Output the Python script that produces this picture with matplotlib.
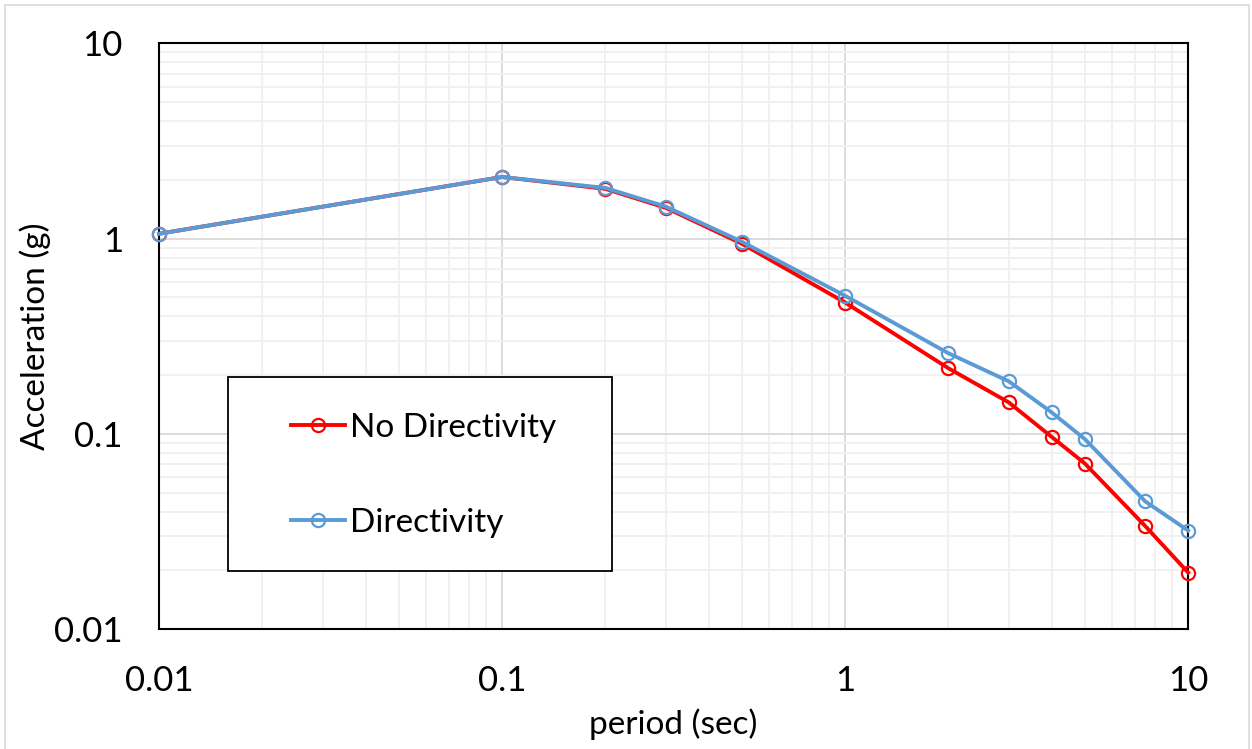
import matplotlib.pyplot as plt
from matplotlib.patches import Rectangle
from matplotlib.ticker import LogLocator, FuncFormatter, NullFormatter

# Response spectra: period (sec) vs spectral acceleration (g)
period = [0.01, 0.1, 0.2, 0.3, 0.5, 1, 2, 3, 4, 5, 7.5, 10]
accel_no_dir = [1.06, 2.07, 1.80, 1.44, 0.943, 0.471, 0.217, 0.145, 0.0966, 0.0705, 0.0337, 0.0195]
accel_dir = [1.06, 2.07, 1.82, 1.46, 0.965, 0.51, 0.259, 0.186, 0.129, 0.094, 0.0451, 0.032]

plt.rcParams['font.family'] = ['Lato', 'DejaVu Sans']

fig = plt.figure(figsize=(12.52, 7.49), dpi=100)
ax = fig.add_axes([0.127, 0.160, 0.822, 0.782])

# light outer border of the chart area
fig.patches.append(Rectangle((5 / 1252, -0.01), 1244 / 1252, 1.0 - 5 / 749 + 0.01,
                             transform=fig.transFigure, fill=False,
                             edgecolor='#d9d9d9', linewidth=1.2))

red = '#ff0000'
blue = '#5b9bd5'
ax.plot(period, accel_no_dir, color=red, lw=2.8, marker='o', ms=9.5,
        mfc='none', mew=1.6, label='No Directivity', zorder=3, clip_on=False)
ax.plot(period, accel_dir, color=blue, lw=2.8, marker='o', ms=9.5,
        mfc='none', mew=1.6, label='Directivity', zorder=4, clip_on=False)

ax.set_xscale('log')
ax.set_yscale('log')
ax.set_xlim(0.01, 10)
ax.set_ylim(0.01, 10)

fmt = FuncFormatter(lambda v, pos: f'{v:g}')
for axis in (ax.xaxis, ax.yaxis):
    axis.set_major_locator(LogLocator(base=10))
    axis.set_minor_locator(LogLocator(base=10, subs=range(2, 10)))
    axis.set_major_formatter(fmt)
    axis.set_minor_formatter(NullFormatter())

ax.grid(True, which='major', color='#d9d9d9', lw=1.3)
ax.grid(True, which='minor', color='#f0f0f0', lw=1.3)
ax.set_axisbelow(True)

for sp in ax.spines.values():
    sp.set_color('black')
    sp.set_linewidth(1.5)

ax.tick_params(which='both', length=0, labelsize=25)
ax.tick_params(axis='x', pad=26)
ax.tick_params(axis='y', pad=26)

ax.set_xlabel('period (sec)', fontsize=24, labelpad=8)
ax.set_ylabel('Acceleration (g)', fontsize=24, labelpad=2)

# legend box drawn separately so it can be sized freely
ax.add_patch(Rectangle((0.067, 0.099), 0.373, 0.331, transform=ax.transAxes,
                       facecolor='white', edgecolor='black', lw=1.3, zorder=5))
leg = ax.legend(loc='center', bbox_to_anchor=(0.257, 0.263), frameon=False,
                fontsize=24, handlelength=1.6, handletextpad=0.15,
                labelspacing=1.95, markerscale=1.0)
leg.set_zorder(6)

fig.savefig('out.png', dpi=100)
